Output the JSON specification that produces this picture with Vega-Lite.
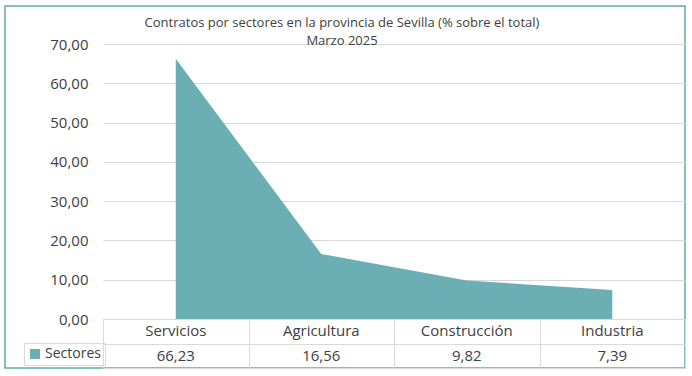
{
  "$schema": "https://vega.github.io/schema/vega-lite/v6.json",
  "width": 680,
  "height": 362,
  "autosize": {"type": "none"},
  "padding": {"left": 5, "top": 6, "right": 7, "bottom": 8},
  "background": "white",
  "config": {
    "font": "Open Sans",
    "locale": {"number": {"decimal": ",", "thousands": ".", "grouping": [3], "currency": ["", " €"]}},
    "view": {"stroke": "#62A9AF", "strokeWidth": 1.5},
    "axis": {"labelColor": "#404040", "labelFontSize": 15, "gridColor": "#d9d9d9", "tickColor": "#d9d9d9", "domainColor": "#d9d9d9", "title": null}
  },
  "title": {
    "text": ["Contratos por sectores en la provincia de Sevilla (% sobre el total)", "Marzo 2025"],
    "fontSize": 13, "fontWeight": "normal", "color": "#404040", "anchor": "middle", "frame": "group",
    "offset": -42, "lineHeight": 18, "dx": -3
  },
  "data": {"values": [
    {"sector": "Servicios", "valor": 66.23},
    {"sector": "Agricultura", "valor": 16.56},
    {"sector": "Construcción", "valor": 9.82},
    {"sector": "Industria", "valor": 7.39}
  ]},
  "layer": [
    {
      "mark": {"type": "area", "opacity": 1},
      "encoding": {
        "x": {"field": "sector", "type": "nominal", "sort": null, "bandPosition": 0.5,
          "scale": {"type": "band", "range": [98, 680], "paddingInner": 0, "paddingOuter": 0},
          "axis": {"orient": "bottom", "offset": -49, "labels": false, "domain": false, "ticks": true, "tickBand": "extent", "tickExtra": true, "tickSize": 49, "grid": false}},
        "y": {"field": "valor", "type": "quantitative",
          "scale": {"domain": [0, 70], "range": [313, 38], "nice": false, "zero": true},
          "axis": {"values": [0, 10, 20, 30, 40, 50, 60, 70], "format": ".2f", "offset": -98, "labelPadding": 15, "domain": false, "ticks": false, "grid": true}},
        "color": {"datum": "Sectores", "type": "nominal", "scale": {"range": ["#6BAFB5"]},
          "legend": {"orient": "none", "legendX": 19, "legendY": 337, "title": null, "symbolType": "square", "symbolSize": 100, "symbolStrokeWidth": 0, "labelFontSize": 14, "labelColor": "#404040", "strokeColor": "#d9d9d9", "padding": 4, "labelOffset": 3}}
      }
    },
    {
      "layer": [
        {
          "mark": {"type": "text", "fontSize": 15, "color": "#404040"},
          "encoding": {
            "x": {"field": "sector", "type": "nominal", "sort": null},
            "y": {"datum": "hdr", "type": "nominal",
              "scale": {"type": "band", "domain": ["hdr", "Sectores"], "range": [313, 362], "paddingInner": 0, "paddingOuter": 0},
              "axis": {"orient": "left", "labels": false, "ticks": false, "domain": false, "grid": true, "tickBand": "extent", "tickExtra": true}},
            "text": {"field": "sector"}
          }
        },
        {
          "mark": {"type": "text", "fontSize": 15, "color": "#404040"},
          "encoding": {
            "x": {"field": "sector", "type": "nominal", "sort": null},
            "y": {"datum": "Sectores", "type": "nominal"},
            "text": {"field": "valor", "type": "quantitative", "format": ".2f"}
          }
        }
      ]
    }
  ],
  "resolve": {"scale": {"y": "independent"}, "axis": {"y": "independent"}}
}
